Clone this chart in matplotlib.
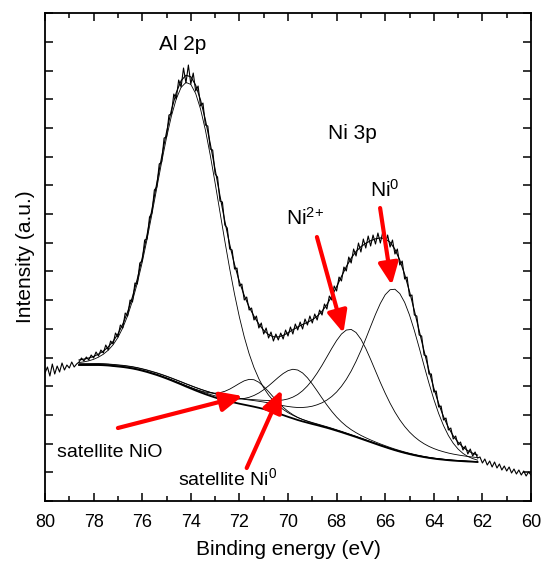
import numpy as np
import matplotlib
matplotlib.use('Agg')
import matplotlib.pyplot as plt
from matplotlib.ticker import MultipleLocator, NullFormatter

plt.rcParams['font.family'] = ['Liberation Sans', 'DejaVu Sans']
plt.rcParams['mathtext.default'] = 'regular'

# measured spectrum, 80 -> 60 eV in 0.1 eV steps (counts in arbitrary units)
energy = np.linspace(80.0, 60.0, 201)
measured = [128, 134, 125, 137, 127, 135, 129, 138, 131, 136, 133, 139, 134, 137,
            139, 143, 140, 144, 141, 146, 143, 149, 145, 151, 148, 156, 151, 160, 157, 168,
            164, 176, 173, 188, 185, 201, 199, 218, 217, 238, 240, 261, 262, 284, 288, 311,
            314, 337, 339, 363, 364, 386, 387, 407, 402, 421, 414, 433, 418, 436, 417, 428,
            410, 415, 395, 398, 376, 375, 352, 351, 327, 324, 300, 299, 276, 273, 252, 251,
            232, 233, 215, 217, 201, 204, 191, 193, 181, 185, 173, 178, 167, 173, 163, 169,
            160, 167, 161, 168, 162, 171, 165, 174, 167, 177, 171, 179, 172, 182, 176, 185,
            178, 187, 181, 191, 186, 197, 192, 205, 201, 215, 210, 224, 220, 234, 230, 244,
            238, 252, 245, 258, 249, 262, 253, 265, 255, 266, 257, 268, 258, 269, 256, 266,
            254, 261, 247, 252, 236, 240, 222, 224, 205, 206, 186, 185, 166, 165, 146, 145,
            127, 127, 109, 110, 94, 95, 81, 83, 71, 73, 62, 65, 56, 59, 51, 55, 47, 52, 45,
            49, 43,
            44, 38, 42, 36, 40, 34, 39, 33, 37, 31, 35, 30, 34, 28, 32, 27, 31, 26, 30, 25,
            29, 26]

# fit range, 0.2 eV steps, and the Shirley background
fit_energy = np.round(np.arange(78.6, 62.19, -0.2), 1)
background = [136, 136, 136, 136, 136, 135.8, 135.5, 135, 134.5, 134, 133.3, 132.5, 131.5,
              130.3, 129, 127.5, 126, 124.3, 122.5, 120.6, 118.6, 116.6, 114.5, 112.5, 110.5,
              108.6, 106.8, 105.1, 103.5, 102, 100.7, 99.5, 98.4, 97.3, 96.3, 95.3, 94.3, 93.2,
              92, 90.7, 89.2, 87.6, 85.9, 84.2, 82.6, 81, 79.6, 78.3, 77, 75.8, 74.5, 73.2, 71.8,
              70.3, 68.8, 67.2, 65.6, 64, 62.3, 60.6, 58.9, 57.2, 55.5, 53.9, 52.3, 50.8, 49.4,
              48.1, 46.9, 45.8, 44.8, 43.9, 43.1, 42.4, 41.8, 41.3, 40.8, 40.4, 40.1, 39.8, 39.5,
              39.3, 39.0]

# fitted components: Al 2p, sat. NiO, sat. Ni0, Ni2+, Ni0
# centre (eV), height above background, FWHM and Lorentzian fraction on the
# high-BE side and on the low-BE side
peak_centre = [74.10, 71.44, 69.63, 67.38, 65.62]
peak_height = [305, 27, 50, 106, 161]
fwhm_high = [3.1, 1.8, 2.3, 2.8, 3.0]
fwhm_low = [3.1, 1.8, 2.3, 2.8, 2.7]
lorentz_high = [0.05, 0.3, 0.3, 0.6, 0.6]
lorentz_low = [0.05, 0.3, 0.3, 0.6, 0.0]


def component(e, c, h, wh, wl, eh, el):
    w = np.where(e >= c, wh, wl)
    eta = np.where(e >= c, eh, el)
    d = (e - c) / w
    return h * ((1 - eta) * np.exp(-4 * np.log(2) * d ** 2) + eta / (1 + 4 * d ** 2))


bg = np.array(background)
comps = [bg + component(fit_energy, *p)
         for p in zip(peak_centre, peak_height, fwhm_high, fwhm_low, lorentz_high, lorentz_low)]
envelope = bg + sum(c - bg for c in comps)

fig = plt.figure(figsize=(5.43, 5.69), dpi=100)
ax = fig.add_axes([0.0829, 0.1195, 0.8950, 0.8576])

ax.plot(energy, measured, color='black', lw=0.8)
ax.plot(fit_energy, envelope, color='black', lw=0.8)
ax.plot(fit_energy, bg, color='black', lw=1.3)
for c in comps:
    ax.plot(fit_energy, c, color='black', lw=0.6)

ax.set_xlim(80, 60)
ax.set_ylim(0, 488)
ax.xaxis.set_major_locator(MultipleLocator(2))
ax.xaxis.set_minor_locator(MultipleLocator(1))
ax.yaxis.set_major_locator(MultipleLocator(28.7))
ax.yaxis.set_major_formatter(NullFormatter())
ax.tick_params(which='both', direction='in', top=True, right=True, labelsize=13, width=1.1)
ax.tick_params(axis='x', pad=9)
ax.tick_params(which='major', length=6)
ax.tick_params(which='minor', length=3.5)
for s in ax.spines.values():
    s.set_linewidth(1.3)
ax.set_xlabel('Binding energy (eV)', fontsize=15, labelpad=7)
ax.set_ylabel('Intensity (a.u.)', fontsize=15, labelpad=4)

ax.text(74.32, 457, 'Al 2p', ha='center', va='center', fontsize=15)
ax.text(67.37, 368, 'Ni 3p', ha='center', va='center', fontsize=15)
ax.text(70.08, 276, 'Ni$^{2{+}}$', ha='left', va='baseline', fontsize=15)
ax.text(66.63, 304, 'Ni$^{0}$', ha='left', va='baseline', fontsize=15)
ax.text(79.51, 44, 'satellite NiO', ha='left', va='baseline', fontsize=14)
ax.text(74.53, 16, 'satellite Ni$^{0}$', ha='left', va='baseline', fontsize=14)

arrow_tail = [(77.0, 73), (71.70, 33), (68.81, 264), (66.21, 293)]
arrow_tip = [(71.87, 105), (70.26, 111), (67.72, 168), (65.73, 216)]
for tail, tip in zip(arrow_tail, arrow_tip):
    ax.annotate('', xy=tip, xytext=tail,
                arrowprops=dict(arrowstyle='-|>,head_length=1.1,head_width=0.5',
                                color='red', lw=3, shrinkA=0, shrinkB=0, mutation_scale=12))

fig.savefig('out.png', dpi=100)
